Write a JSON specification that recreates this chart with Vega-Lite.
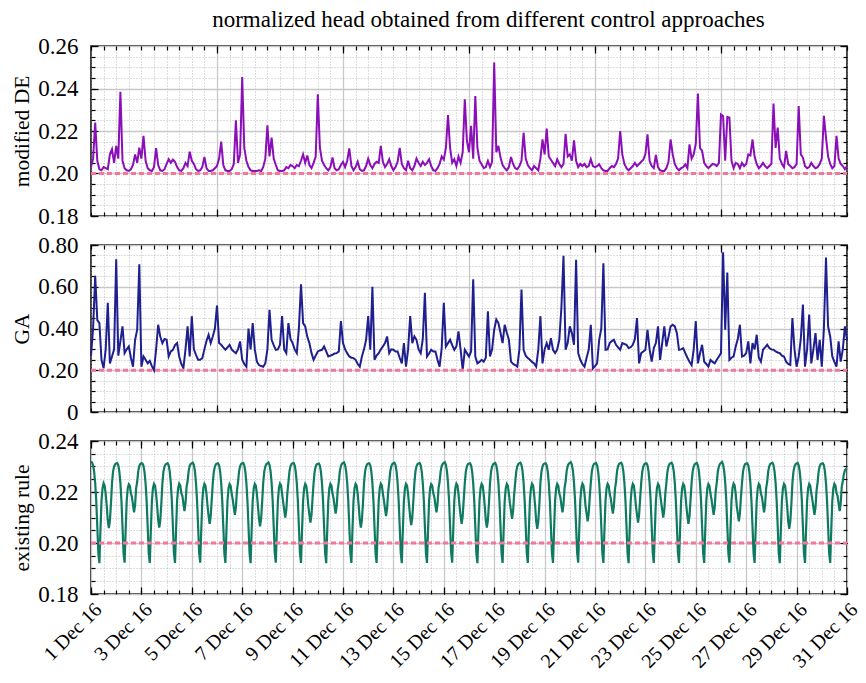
{
"$schema":"https://vega.github.io/schema/vega-lite/v6.json",
"background":"white",
"padding":{"left":11,"top":9,"right":10,"bottom":3},
"bounds":"flush",
"spacing":29,
"title":{"text":"normalized head obtained from different control approaches","font":"Liberation Serif","fontSize":23,"fontWeight":"normal","color":"black","anchor":"middle","offset":2,"dx":52},
"config":{
 "view":{"stroke":"black","strokeWidth":1.5},
 "axis":{"domain":false,"labelFont":"Liberation Serif","labelFontSize":23,"labelColor":"black","titleFont":"Liberation Serif","titleFontSize":21.5,"titleFontWeight":"normal","titleColor":"black","tickColor":"black","tickWidth":1.2,"tickSize":-4,"labelOverlap":false,"labelFlush":false,"labelBound":false,"gridColor":"#a0a0a0","gridDash":[1,2],"gridWidth":0.7}
},
"datasets":{
"thr":[{"t":"2016-12-01T00:00","v":0.2},{"t":"2016-12-31T00:00","v":0.2}],
"ab":[
{"t":"2016-12-01T00:00","a":0.203,"b":0.27},{"t":"2016-12-01T02:00","a":0.207,"b":0.40},{"t":"2016-12-01T04:00","a":0.224,"b":0.652},{"t":"2016-12-01T06:00","a":0.206,"b":0.44},{"t":"2016-12-01T08:00","a":0.202,"b":0.426},{"t":"2016-12-01T10:00","a":0.2015,"b":0.25},{"t":"2016-12-01T12:00","a":0.203,"b":0.21},{"t":"2016-12-01T14:00","a":0.2025,"b":0.30},{"t":"2016-12-01T16:00","a":0.202,"b":0.523},{"t":"2016-12-01T18:00","a":0.209,"b":0.233},{"t":"2016-12-01T20:00","a":0.2114,"b":0.266},{"t":"2016-12-01T22:00","a":0.205,"b":0.30},
{"t":"2016-12-02T00:00","a":0.213,"b":0.732},{"t":"2016-12-02T02:00","a":0.207,"b":0.27},{"t":"2016-12-02T04:00","a":0.2384,"b":0.34},{"t":"2016-12-02T06:00","a":0.206,"b":0.41},{"t":"2016-12-02T08:00","a":0.2025,"b":0.282},{"t":"2016-12-02T10:00","a":0.2015,"b":0.30},{"t":"2016-12-02T12:00","a":0.2012,"b":0.314},{"t":"2016-12-02T14:00","a":0.202,"b":0.26},{"t":"2016-12-02T16:00","a":0.204,"b":0.217},{"t":"2016-12-02T18:00","a":0.209,"b":0.346},{"t":"2016-12-02T20:00","a":0.205,"b":0.394},{"t":"2016-12-02T22:00","a":0.2122,"b":0.708},
{"t":"2016-12-03T00:00","a":0.207,"b":0.217},{"t":"2016-12-03T02:00","a":0.2177,"b":0.266},{"t":"2016-12-03T04:00","a":0.206,"b":0.25},{"t":"2016-12-03T06:00","a":0.2025,"b":0.233},{"t":"2016-12-03T08:00","a":0.2015,"b":0.245},{"t":"2016-12-03T10:00","a":0.2012,"b":0.22},{"t":"2016-12-03T12:00","a":0.203,"b":0.2},{"t":"2016-12-03T14:00","a":0.212,"b":0.30},{"t":"2016-12-03T16:00","a":0.204,"b":0.418},{"t":"2016-12-03T18:00","a":0.2015,"b":0.36},{"t":"2016-12-03T20:00","a":0.2012,"b":0.33},{"t":"2016-12-03T22:00","a":0.202,"b":0.35},
{"t":"2016-12-04T00:00","a":0.2045,"b":0.346},{"t":"2016-12-04T02:00","a":0.2067,"b":0.266},{"t":"2016-12-04T04:00","a":0.205,"b":0.29},{"t":"2016-12-04T06:00","a":0.2065,"b":0.298},{"t":"2016-12-04T08:00","a":0.2055,"b":0.32},{"t":"2016-12-04T10:00","a":0.203,"b":0.33},{"t":"2016-12-04T12:00","a":0.2015,"b":0.266},{"t":"2016-12-04T14:00","a":0.2012,"b":0.23},{"t":"2016-12-04T16:00","a":0.2025,"b":0.21},{"t":"2016-12-04T18:00","a":0.205,"b":0.30},{"t":"2016-12-04T20:00","a":0.2035,"b":0.41},{"t":"2016-12-04T22:00","a":0.2103,"b":0.266},
{"t":"2016-12-05T00:00","a":0.206,"b":0.459},{"t":"2016-12-05T02:00","a":0.2045,"b":0.30},{"t":"2016-12-05T04:00","a":0.202,"b":0.274},{"t":"2016-12-05T06:00","a":0.2012,"b":0.25},{"t":"2016-12-05T08:00","a":0.2015,"b":0.25},{"t":"2016-12-05T10:00","a":0.203,"b":0.258},{"t":"2016-12-05T12:00","a":0.2078,"b":0.30},{"t":"2016-12-05T14:00","a":0.2025,"b":0.34},{"t":"2016-12-05T16:00","a":0.2012,"b":0.37},{"t":"2016-12-05T18:00","a":0.2012,"b":0.33},{"t":"2016-12-05T20:00","a":0.2015,"b":0.362},{"t":"2016-12-05T22:00","a":0.2025,"b":0.40},
{"t":"2016-12-06T00:00","a":0.2035,"b":0.51},{"t":"2016-12-06T02:00","a":0.207,"b":0.33},{"t":"2016-12-06T04:00","a":0.215,"b":0.322},{"t":"2016-12-06T06:00","a":0.204,"b":0.31},{"t":"2016-12-06T08:00","a":0.2015,"b":0.298},{"t":"2016-12-06T10:00","a":0.2012,"b":0.31},{"t":"2016-12-06T12:00","a":0.2012,"b":0.322},{"t":"2016-12-06T14:00","a":0.202,"b":0.30},{"t":"2016-12-06T16:00","a":0.2045,"b":0.29},{"t":"2016-12-06T18:00","a":0.225,"b":0.282},{"t":"2016-12-06T20:00","a":0.205,"b":0.30},{"t":"2016-12-06T22:00","a":0.209,"b":0.338},
{"t":"2016-12-07T00:00","a":0.2454,"b":0.25},{"t":"2016-12-07T02:00","a":0.212,"b":0.23},{"t":"2016-12-07T04:00","a":0.206,"b":0.217},{"t":"2016-12-07T06:00","a":0.203,"b":0.40},{"t":"2016-12-07T08:00","a":0.2015,"b":0.30},{"t":"2016-12-07T10:00","a":0.2012,"b":0.426},{"t":"2016-12-07T12:00","a":0.2012,"b":0.30},{"t":"2016-12-07T14:00","a":0.2012,"b":0.241},{"t":"2016-12-07T16:00","a":0.2015,"b":0.225},{"t":"2016-12-07T18:00","a":0.2012,"b":0.22},{"t":"2016-12-07T20:00","a":0.203,"b":0.217},{"t":"2016-12-07T22:00","a":0.207,"b":0.233},
{"t":"2016-12-08T00:00","a":0.2227,"b":0.30},{"t":"2016-12-08T02:00","a":0.208,"b":0.49},{"t":"2016-12-08T04:00","a":0.2169,"b":0.346},{"t":"2016-12-08T06:00","a":0.207,"b":0.32},{"t":"2016-12-08T08:00","a":0.204,"b":0.298},{"t":"2016-12-08T10:00","a":0.2015,"b":0.30},{"t":"2016-12-08T12:00","a":0.2012,"b":0.322},{"t":"2016-12-08T14:00","a":0.2012,"b":0.459},{"t":"2016-12-08T16:00","a":0.2015,"b":0.30},{"t":"2016-12-08T18:00","a":0.203,"b":0.282},{"t":"2016-12-08T20:00","a":0.2025,"b":0.426},{"t":"2016-12-08T22:00","a":0.204,"b":0.35},
{"t":"2016-12-09T00:00","a":0.2035,"b":0.33},{"t":"2016-12-09T02:00","a":0.2025,"b":0.30},{"t":"2016-12-09T04:00","a":0.204,"b":0.282},{"t":"2016-12-09T06:00","a":0.2035,"b":0.40},{"t":"2016-12-09T08:00","a":0.206,"b":0.612},{"t":"2016-12-09T10:00","a":0.209,"b":0.426},{"t":"2016-12-09T12:00","a":0.205,"b":0.41},{"t":"2016-12-09T14:00","a":0.2085,"b":0.36},{"t":"2016-12-09T16:00","a":0.204,"b":0.33},{"t":"2016-12-09T18:00","a":0.2025,"b":0.282},{"t":"2016-12-09T20:00","a":0.205,"b":0.25},{"t":"2016-12-09T22:00","a":0.208,"b":0.27},
{"t":"2016-12-10T00:00","a":0.2373,"b":0.29},{"t":"2016-12-10T02:00","a":0.212,"b":0.295},{"t":"2016-12-10T04:00","a":0.206,"b":0.298},{"t":"2016-12-10T06:00","a":0.204,"b":0.314},{"t":"2016-12-10T08:00","a":0.2025,"b":0.29},{"t":"2016-12-10T10:00","a":0.2015,"b":0.266},{"t":"2016-12-10T12:00","a":0.203,"b":0.27},{"t":"2016-12-10T14:00","a":0.2075,"b":0.274},{"t":"2016-12-10T16:00","a":0.2025,"b":0.28},{"t":"2016-12-10T18:00","a":0.2015,"b":0.282},{"t":"2016-12-10T20:00","a":0.202,"b":0.29},{"t":"2016-12-10T22:00","a":0.204,"b":0.435},
{"t":"2016-12-11T00:00","a":0.2055,"b":0.33},{"t":"2016-12-11T02:00","a":0.203,"b":0.30},{"t":"2016-12-11T04:00","a":0.206,"b":0.282},{"t":"2016-12-11T06:00","a":0.2118,"b":0.266},{"t":"2016-12-11T08:00","a":0.2035,"b":0.26},{"t":"2016-12-11T10:00","a":0.2015,"b":0.258},{"t":"2016-12-11T12:00","a":0.203,"b":0.25},{"t":"2016-12-11T14:00","a":0.2056,"b":0.23},{"t":"2016-12-11T16:00","a":0.202,"b":0.217},{"t":"2016-12-11T18:00","a":0.2012,"b":0.266},{"t":"2016-12-11T20:00","a":0.2015,"b":0.30},{"t":"2016-12-11T22:00","a":0.2035,"b":0.346},
{"t":"2016-12-12T00:00","a":0.207,"b":0.459},{"t":"2016-12-12T02:00","a":0.204,"b":0.298},{"t":"2016-12-12T04:00","a":0.2025,"b":0.60},{"t":"2016-12-12T06:00","a":0.2045,"b":0.25},{"t":"2016-12-12T08:00","a":0.2055,"b":0.27},{"t":"2016-12-12T10:00","a":0.205,"b":0.282},{"t":"2016-12-12T12:00","a":0.213,"b":0.30},{"t":"2016-12-12T14:00","a":0.2055,"b":0.314},{"t":"2016-12-12T16:00","a":0.203,"b":0.33},{"t":"2016-12-12T18:00","a":0.2045,"b":0.362},{"t":"2016-12-12T20:00","a":0.2067,"b":0.282},{"t":"2016-12-12T22:00","a":0.2035,"b":0.30},
{"t":"2016-12-13T00:00","a":0.2015,"b":0.298},{"t":"2016-12-13T02:00","a":0.203,"b":0.29},{"t":"2016-12-13T04:00","a":0.2055,"b":0.29},{"t":"2016-12-13T06:00","a":0.212,"b":0.26},{"t":"2016-12-13T08:00","a":0.2045,"b":0.233},{"t":"2016-12-13T10:00","a":0.2025,"b":0.33},{"t":"2016-12-13T12:00","a":0.2015,"b":0.217},{"t":"2016-12-13T14:00","a":0.206,"b":0.30},{"t":"2016-12-13T16:00","a":0.2025,"b":0.459},{"t":"2016-12-13T18:00","a":0.2015,"b":0.33},{"t":"2016-12-13T20:00","a":0.2035,"b":0.362},{"t":"2016-12-13T22:00","a":0.207,"b":0.346},
{"t":"2016-12-14T00:00","a":0.205,"b":0.30},{"t":"2016-12-14T02:00","a":0.2035,"b":0.282},{"t":"2016-12-14T04:00","a":0.2055,"b":0.35},{"t":"2016-12-14T06:00","a":0.204,"b":0.571},{"t":"2016-12-14T08:00","a":0.205,"b":0.266},{"t":"2016-12-14T10:00","a":0.2067,"b":0.28},{"t":"2016-12-14T12:00","a":0.2035,"b":0.298},{"t":"2016-12-14T14:00","a":0.2015,"b":0.29},{"t":"2016-12-14T16:00","a":0.2012,"b":0.29},{"t":"2016-12-14T18:00","a":0.2025,"b":0.25},{"t":"2016-12-14T20:00","a":0.2045,"b":0.217},{"t":"2016-12-14T22:00","a":0.208,"b":0.306},
{"t":"2016-12-15T00:00","a":0.2065,"b":0.523},{"t":"2016-12-15T02:00","a":0.212,"b":0.314},{"t":"2016-12-15T04:00","a":0.2275,"b":0.33},{"t":"2016-12-15T06:00","a":0.212,"b":0.346},{"t":"2016-12-15T08:00","a":0.205,"b":0.32},{"t":"2016-12-15T10:00","a":0.2067,"b":0.298},{"t":"2016-12-15T12:00","a":0.2035,"b":0.314},{"t":"2016-12-15T14:00","a":0.208,"b":0.386},{"t":"2016-12-15T16:00","a":0.205,"b":0.30},{"t":"2016-12-15T18:00","a":0.21,"b":0.2},{"t":"2016-12-15T20:00","a":0.2349,"b":0.298},{"t":"2016-12-15T22:00","a":0.2153,"b":0.282},
{"t":"2016-12-16T00:00","a":0.21,"b":0.266},{"t":"2016-12-16T02:00","a":0.2224,"b":0.29},{"t":"2016-12-16T04:00","a":0.207,"b":0.636},{"t":"2016-12-16T06:00","a":0.2365,"b":0.266},{"t":"2016-12-16T08:00","a":0.212,"b":0.233},{"t":"2016-12-16T10:00","a":0.206,"b":0.24},{"t":"2016-12-16T12:00","a":0.2043,"b":0.25},{"t":"2016-12-16T14:00","a":0.2025,"b":0.241},{"t":"2016-12-16T16:00","a":0.203,"b":0.26},{"t":"2016-12-16T18:00","a":0.2059,"b":0.483},{"t":"2016-12-16T20:00","a":0.203,"b":0.266},{"t":"2016-12-16T22:00","a":0.2055,"b":0.30},
{"t":"2016-12-17T00:00","a":0.2522,"b":0.394},{"t":"2016-12-17T02:00","a":0.21,"b":0.443},{"t":"2016-12-17T04:00","a":0.213,"b":0.426},{"t":"2016-12-17T06:00","a":0.2075,"b":0.38},{"t":"2016-12-17T08:00","a":0.204,"b":0.33},{"t":"2016-12-17T10:00","a":0.2025,"b":0.418},{"t":"2016-12-17T12:00","a":0.2015,"b":0.38},{"t":"2016-12-17T14:00","a":0.203,"b":0.346},{"t":"2016-12-17T16:00","a":0.2078,"b":0.241},{"t":"2016-12-17T18:00","a":0.2045,"b":0.23},{"t":"2016-12-17T20:00","a":0.2025,"b":0.225},{"t":"2016-12-17T22:00","a":0.202,"b":0.217},
{"t":"2016-12-18T00:00","a":0.2035,"b":0.30},{"t":"2016-12-18T02:00","a":0.206,"b":0.587},{"t":"2016-12-18T04:00","a":0.2192,"b":0.298},{"t":"2016-12-18T06:00","a":0.207,"b":0.27},{"t":"2016-12-18T08:00","a":0.204,"b":0.258},{"t":"2016-12-18T10:00","a":0.2025,"b":0.25},{"t":"2016-12-18T12:00","a":0.2015,"b":0.24},{"t":"2016-12-18T14:00","a":0.2035,"b":0.233},{"t":"2016-12-18T16:00","a":0.2025,"b":0.217},{"t":"2016-12-18T18:00","a":0.2015,"b":0.30},{"t":"2016-12-18T20:00","a":0.207,"b":0.459},{"t":"2016-12-18T22:00","a":0.2161,"b":0.233},
{"t":"2016-12-19T00:00","a":0.209,"b":0.30},{"t":"2016-12-19T02:00","a":0.2211,"b":0.33},{"t":"2016-12-19T04:00","a":0.208,"b":0.298},{"t":"2016-12-19T06:00","a":0.2065,"b":0.354},{"t":"2016-12-19T08:00","a":0.205,"b":0.298},{"t":"2016-12-19T10:00","a":0.2035,"b":0.282},{"t":"2016-12-19T12:00","a":0.2067,"b":0.30},{"t":"2016-12-19T14:00","a":0.2045,"b":0.346},{"t":"2016-12-19T16:00","a":0.203,"b":0.50},{"t":"2016-12-19T18:00","a":0.2045,"b":0.748},{"t":"2016-12-19T20:00","a":0.2187,"b":0.298},{"t":"2016-12-19T22:00","a":0.208,"b":0.33},
{"t":"2016-12-20T00:00","a":0.209,"b":0.41},{"t":"2016-12-20T02:00","a":0.206,"b":0.378},{"t":"2016-12-20T04:00","a":0.2156,"b":0.322},{"t":"2016-12-20T06:00","a":0.206,"b":0.729},{"t":"2016-12-20T08:00","a":0.203,"b":0.282},{"t":"2016-12-20T10:00","a":0.2045,"b":0.25},{"t":"2016-12-20T12:00","a":0.2035,"b":0.23},{"t":"2016-12-20T14:00","a":0.2045,"b":0.217},{"t":"2016-12-20T16:00","a":0.203,"b":0.26},{"t":"2016-12-20T18:00","a":0.2035,"b":0.298},{"t":"2016-12-20T20:00","a":0.2067,"b":0.418},{"t":"2016-12-20T22:00","a":0.2035,"b":0.209},
{"t":"2016-12-21T00:00","a":0.203,"b":0.22},{"t":"2016-12-21T02:00","a":0.2035,"b":0.233},{"t":"2016-12-21T04:00","a":0.2043,"b":0.346},{"t":"2016-12-21T06:00","a":0.2025,"b":0.40},{"t":"2016-12-21T08:00","a":0.2015,"b":0.713},{"t":"2016-12-21T10:00","a":0.2012,"b":0.298},{"t":"2016-12-21T12:00","a":0.2012,"b":0.30},{"t":"2016-12-21T14:00","a":0.2025,"b":0.33},{"t":"2016-12-21T16:00","a":0.2035,"b":0.34},{"t":"2016-12-21T18:00","a":0.203,"b":0.346},{"t":"2016-12-21T20:00","a":0.2045,"b":0.322},{"t":"2016-12-21T22:00","a":0.207,"b":0.31},
{"t":"2016-12-22T00:00","a":0.22,"b":0.298},{"t":"2016-12-22T02:00","a":0.209,"b":0.33},{"t":"2016-12-22T04:00","a":0.2045,"b":0.326},{"t":"2016-12-22T06:00","a":0.2025,"b":0.322},{"t":"2016-12-22T08:00","a":0.2015,"b":0.306},{"t":"2016-12-22T10:00","a":0.2025,"b":0.31},{"t":"2016-12-22T12:00","a":0.2035,"b":0.322},{"t":"2016-12-22T14:00","a":0.205,"b":0.35},{"t":"2016-12-22T16:00","a":0.2035,"b":0.45},{"t":"2016-12-22T18:00","a":0.2045,"b":0.233},{"t":"2016-12-22T20:00","a":0.2055,"b":0.282},{"t":"2016-12-22T22:00","a":0.2065,"b":0.29},
{"t":"2016-12-23T00:00","a":0.209,"b":0.298},{"t":"2016-12-23T02:00","a":0.2184,"b":0.394},{"t":"2016-12-23T04:00","a":0.206,"b":0.30},{"t":"2016-12-23T06:00","a":0.2035,"b":0.241},{"t":"2016-12-23T08:00","a":0.2025,"b":0.306},{"t":"2016-12-23T10:00","a":0.2087,"b":0.33},{"t":"2016-12-23T12:00","a":0.203,"b":0.41},{"t":"2016-12-23T14:00","a":0.2015,"b":0.25},{"t":"2016-12-23T16:00","a":0.2012,"b":0.33},{"t":"2016-12-23T18:00","a":0.2012,"b":0.41},{"t":"2016-12-23T20:00","a":0.2025,"b":0.314},{"t":"2016-12-23T22:00","a":0.2055,"b":0.36},
{"t":"2016-12-24T00:00","a":0.216,"b":0.41},{"t":"2016-12-24T02:00","a":0.209,"b":0.418},{"t":"2016-12-24T04:00","a":0.2045,"b":0.41},{"t":"2016-12-24T06:00","a":0.2025,"b":0.378},{"t":"2016-12-24T08:00","a":0.2015,"b":0.298},{"t":"2016-12-24T10:00","a":0.2025,"b":0.30},{"t":"2016-12-24T12:00","a":0.203,"b":0.306},{"t":"2016-12-24T14:00","a":0.2043,"b":0.282},{"t":"2016-12-24T16:00","a":0.2025,"b":0.26},{"t":"2016-12-24T18:00","a":0.2137,"b":0.241},{"t":"2016-12-24T20:00","a":0.207,"b":0.225},{"t":"2016-12-24T22:00","a":0.209,"b":0.30},
{"t":"2016-12-25T00:00","a":0.214,"b":0.435},{"t":"2016-12-25T02:00","a":0.2376,"b":0.233},{"t":"2016-12-25T04:00","a":0.212,"b":0.28},{"t":"2016-12-25T06:00","a":0.2106,"b":0.322},{"t":"2016-12-25T08:00","a":0.205,"b":0.241},{"t":"2016-12-25T10:00","a":0.2035,"b":0.23},{"t":"2016-12-25T12:00","a":0.2025,"b":0.217},{"t":"2016-12-25T14:00","a":0.2035,"b":0.25},{"t":"2016-12-25T16:00","a":0.2045,"b":0.24},{"t":"2016-12-25T18:00","a":0.2043,"b":0.233},{"t":"2016-12-25T20:00","a":0.2035,"b":0.25},{"t":"2016-12-25T22:00","a":0.205,"b":0.266},
{"t":"2016-12-26T00:00","a":0.2278,"b":0.282},{"t":"2016-12-26T02:00","a":0.2271,"b":0.765},{"t":"2016-12-26T04:00","a":0.206,"b":0.394},{"t":"2016-12-26T06:00","a":0.2266,"b":0.668},{"t":"2016-12-26T08:00","a":0.2263,"b":0.25},{"t":"2016-12-26T10:00","a":0.206,"b":0.26},{"t":"2016-12-26T12:00","a":0.2025,"b":0.266},{"t":"2016-12-26T14:00","a":0.205,"b":0.314},{"t":"2016-12-26T16:00","a":0.2045,"b":0.35},{"t":"2016-12-26T18:00","a":0.2025,"b":0.418},{"t":"2016-12-26T20:00","a":0.205,"b":0.266},{"t":"2016-12-26T22:00","a":0.2035,"b":0.27},
{"t":"2016-12-27T00:00","a":0.2045,"b":0.282},{"t":"2016-12-27T02:00","a":0.209,"b":0.338},{"t":"2016-12-27T04:00","a":0.2085,"b":0.233},{"t":"2016-12-27T06:00","a":0.216,"b":0.33},{"t":"2016-12-27T08:00","a":0.208,"b":0.30},{"t":"2016-12-27T10:00","a":0.2045,"b":0.37},{"t":"2016-12-27T12:00","a":0.2025,"b":0.26},{"t":"2016-12-27T14:00","a":0.2035,"b":0.241},{"t":"2016-12-27T16:00","a":0.205,"b":0.298},{"t":"2016-12-27T18:00","a":0.2035,"b":0.31},{"t":"2016-12-27T20:00","a":0.2025,"b":0.322},{"t":"2016-12-27T22:00","a":0.2035,"b":0.306},
{"t":"2016-12-28T00:00","a":0.2045,"b":0.30},{"t":"2016-12-28T02:00","a":0.2329,"b":0.298},{"t":"2016-12-28T04:00","a":0.212,"b":0.29},{"t":"2016-12-28T06:00","a":0.2216,"b":0.285},{"t":"2016-12-28T08:00","a":0.207,"b":0.282},{"t":"2016-12-28T10:00","a":0.2045,"b":0.27},{"t":"2016-12-28T12:00","a":0.203,"b":0.266},{"t":"2016-12-28T14:00","a":0.2106,"b":0.241},{"t":"2016-12-28T16:00","a":0.2045,"b":0.23},{"t":"2016-12-28T18:00","a":0.2035,"b":0.225},{"t":"2016-12-28T20:00","a":0.2025,"b":0.45},{"t":"2016-12-28T22:00","a":0.203,"b":0.30},
{"t":"2016-12-29T00:00","a":0.2045,"b":0.217},{"t":"2016-12-29T02:00","a":0.2318,"b":0.266},{"t":"2016-12-29T04:00","a":0.209,"b":0.35},{"t":"2016-12-29T06:00","a":0.2075,"b":0.515},{"t":"2016-12-29T08:00","a":0.2035,"b":0.217},{"t":"2016-12-29T10:00","a":0.2025,"b":0.30},{"t":"2016-12-29T12:00","a":0.203,"b":0.467},{"t":"2016-12-29T14:00","a":0.205,"b":0.233},{"t":"2016-12-29T16:00","a":0.2035,"b":0.30},{"t":"2016-12-29T18:00","a":0.2025,"b":0.378},{"t":"2016-12-29T20:00","a":0.203,"b":0.25},{"t":"2016-12-29T22:00","a":0.2045,"b":0.346},
{"t":"2016-12-30T00:00","a":0.207,"b":0.217},{"t":"2016-12-30T02:00","a":0.2271,"b":0.40},{"t":"2016-12-30T04:00","a":0.2169,"b":0.74},{"t":"2016-12-30T06:00","a":0.208,"b":0.41},{"t":"2016-12-30T08:00","a":0.2045,"b":0.362},{"t":"2016-12-30T10:00","a":0.2025,"b":0.266},{"t":"2016-12-30T12:00","a":0.2035,"b":0.24},{"t":"2016-12-30T14:00","a":0.2177,"b":0.217},{"t":"2016-12-30T16:00","a":0.207,"b":0.338},{"t":"2016-12-30T18:00","a":0.2045,"b":0.241},{"t":"2016-12-30T20:00","a":0.2035,"b":0.30},{"t":"2016-12-30T22:00","a":0.202,"b":0.41},
{"t":"2016-12-31T00:00","a":0.2035,"b":0.346}
],
"c":[
{"t":"2016-12-01T00:00","c":0.2320},{"t":"2016-12-01T01:00","c":0.2315},{"t":"2016-12-01T02:00","c":0.2305},{"t":"2016-12-01T03:00","c":0.2280},{"t":"2016-12-01T04:00","c":0.2235},{"t":"2016-12-01T05:00","c":0.2165},{"t":"2016-12-01T06:00","c":0.2065},{"t":"2016-12-01T07:00","c":0.1960},{"t":"2016-12-01T08:00","c":0.1921},{"t":"2016-12-01T09:00","c":0.2050},{"t":"2016-12-01T10:00","c":0.2165},{"t":"2016-12-01T11:00","c":0.2215},{"t":"2016-12-01T12:00","c":0.2234},{"t":"2016-12-01T13:00","c":0.2225},{"t":"2016-12-01T14:00","c":0.2192},{"t":"2016-12-01T15:00","c":0.2145},{"t":"2016-12-01T16:00","c":0.2088},{"t":"2016-12-01T17:00","c":0.2058},{"t":"2016-12-01T18:00","c":0.2088},{"t":"2016-12-01T19:00","c":0.2153},{"t":"2016-12-01T20:00","c":0.2235},{"t":"2016-12-01T21:00","c":0.2280},{"t":"2016-12-01T22:00","c":0.2300},{"t":"2016-12-01T23:00","c":0.2309},
{"t":"2016-12-02T00:00","c":0.2312},{"t":"2016-12-02T01:00","c":0.2314},{"t":"2016-12-02T02:00","c":0.2305},{"t":"2016-12-02T03:00","c":0.2280},{"t":"2016-12-02T04:00","c":0.2235},{"t":"2016-12-02T05:00","c":0.2165},{"t":"2016-12-02T06:00","c":0.2065},{"t":"2016-12-02T07:00","c":0.1960},{"t":"2016-12-02T08:00","c":0.1923},{"t":"2016-12-02T09:00","c":0.2050},{"t":"2016-12-02T10:00","c":0.2165},{"t":"2016-12-02T11:00","c":0.2215},{"t":"2016-12-02T12:00","c":0.2230},{"t":"2016-12-02T13:00","c":0.2224},{"t":"2016-12-02T14:00","c":0.2195},{"t":"2016-12-02T15:00","c":0.2180},{"t":"2016-12-02T16:00","c":0.2150},{"t":"2016-12-02T17:00","c":0.2120},{"t":"2016-12-02T18:00","c":0.2150},{"t":"2016-12-02T19:00","c":0.2215},{"t":"2016-12-02T20:00","c":0.2240},{"t":"2016-12-02T21:00","c":0.2282},{"t":"2016-12-02T22:00","c":0.2302},{"t":"2016-12-02T23:00","c":0.2310},
{"t":"2016-12-03T00:00","c":0.2313},{"t":"2016-12-03T01:00","c":0.2312},{"t":"2016-12-03T02:00","c":0.2303},{"t":"2016-12-03T03:00","c":0.2278},{"t":"2016-12-03T04:00","c":0.2233},{"t":"2016-12-03T05:00","c":0.2163},{"t":"2016-12-03T06:00","c":0.2063},{"t":"2016-12-03T07:00","c":0.1958},{"t":"2016-12-03T08:00","c":0.1922},{"t":"2016-12-03T09:00","c":0.2050},{"t":"2016-12-03T10:00","c":0.2165},{"t":"2016-12-03T11:00","c":0.2215},{"t":"2016-12-03T12:00","c":0.2232},{"t":"2016-12-03T13:00","c":0.2225},{"t":"2016-12-03T14:00","c":0.2192},{"t":"2016-12-03T15:00","c":0.2145},{"t":"2016-12-03T16:00","c":0.2090},{"t":"2016-12-03T17:00","c":0.2060},{"t":"2016-12-03T18:00","c":0.2090},{"t":"2016-12-03T19:00","c":0.2155},{"t":"2016-12-03T20:00","c":0.2235},{"t":"2016-12-03T21:00","c":0.2280},{"t":"2016-12-03T22:00","c":0.2300},{"t":"2016-12-03T23:00","c":0.2308},
{"t":"2016-12-04T00:00","c":0.2311},{"t":"2016-12-04T01:00","c":0.2313},{"t":"2016-12-04T02:00","c":0.2305},{"t":"2016-12-04T03:00","c":0.2280},{"t":"2016-12-04T04:00","c":0.2235},{"t":"2016-12-04T05:00","c":0.2165},{"t":"2016-12-04T06:00","c":0.2065},{"t":"2016-12-04T07:00","c":0.1960},{"t":"2016-12-04T08:00","c":0.1922},{"t":"2016-12-04T09:00","c":0.2050},{"t":"2016-12-04T10:00","c":0.2166},{"t":"2016-12-04T11:00","c":0.2216},{"t":"2016-12-04T12:00","c":0.2233},{"t":"2016-12-04T13:00","c":0.2226},{"t":"2016-12-04T14:00","c":0.2196},{"t":"2016-12-04T15:00","c":0.2185},{"t":"2016-12-04T16:00","c":0.2155},{"t":"2016-12-04T17:00","c":0.2125},{"t":"2016-12-04T18:00","c":0.2155},{"t":"2016-12-04T19:00","c":0.2220},{"t":"2016-12-04T20:00","c":0.2242},{"t":"2016-12-04T21:00","c":0.2283},{"t":"2016-12-04T22:00","c":0.2302},{"t":"2016-12-04T23:00","c":0.2310},
{"t":"2016-12-05T00:00","c":0.2313},{"t":"2016-12-05T01:00","c":0.2315},{"t":"2016-12-05T02:00","c":0.2306},{"t":"2016-12-05T03:00","c":0.2281},{"t":"2016-12-05T04:00","c":0.2236},{"t":"2016-12-05T05:00","c":0.2166},{"t":"2016-12-05T06:00","c":0.2066},{"t":"2016-12-05T07:00","c":0.1961},{"t":"2016-12-05T08:00","c":0.1923},{"t":"2016-12-05T09:00","c":0.2050},{"t":"2016-12-05T10:00","c":0.2165},{"t":"2016-12-05T11:00","c":0.2215},{"t":"2016-12-05T12:00","c":0.2232},{"t":"2016-12-05T13:00","c":0.2225},{"t":"2016-12-05T14:00","c":0.2192},{"t":"2016-12-05T15:00","c":0.2145},{"t":"2016-12-05T16:00","c":0.2105},{"t":"2016-12-05T17:00","c":0.2075},{"t":"2016-12-05T18:00","c":0.2105},{"t":"2016-12-05T19:00","c":0.2170},{"t":"2016-12-05T20:00","c":0.2236},{"t":"2016-12-05T21:00","c":0.2280},{"t":"2016-12-05T22:00","c":0.2300},{"t":"2016-12-05T23:00","c":0.2309},
{"t":"2016-12-06T00:00","c":0.2312},{"t":"2016-12-06T01:00","c":0.2313},{"t":"2016-12-06T02:00","c":0.2305},{"t":"2016-12-06T03:00","c":0.2280},{"t":"2016-12-06T04:00","c":0.2235},{"t":"2016-12-06T05:00","c":0.2165},{"t":"2016-12-06T06:00","c":0.2065},{"t":"2016-12-06T07:00","c":0.1960},{"t":"2016-12-06T08:00","c":0.1922},{"t":"2016-12-06T09:00","c":0.2050},{"t":"2016-12-06T10:00","c":0.2165},{"t":"2016-12-06T11:00","c":0.2215},{"t":"2016-12-06T12:00","c":0.2231},{"t":"2016-12-06T13:00","c":0.2224},{"t":"2016-12-06T14:00","c":0.2193},{"t":"2016-12-06T15:00","c":0.2170},{"t":"2016-12-06T16:00","c":0.2140},{"t":"2016-12-06T17:00","c":0.2110},{"t":"2016-12-06T18:00","c":0.2140},{"t":"2016-12-06T19:00","c":0.2205},{"t":"2016-12-06T20:00","c":0.2238},{"t":"2016-12-06T21:00","c":0.2281},{"t":"2016-12-06T22:00","c":0.2301},{"t":"2016-12-06T23:00","c":0.2310},
{"t":"2016-12-07T00:00","c":0.2313},{"t":"2016-12-07T01:00","c":0.2314},{"t":"2016-12-07T02:00","c":0.2305},{"t":"2016-12-07T03:00","c":0.2280},{"t":"2016-12-07T04:00","c":0.2235},{"t":"2016-12-07T05:00","c":0.2165},{"t":"2016-12-07T06:00","c":0.2065},{"t":"2016-12-07T07:00","c":0.1960},{"t":"2016-12-07T08:00","c":0.1921},{"t":"2016-12-07T09:00","c":0.2050},{"t":"2016-12-07T10:00","c":0.2165},{"t":"2016-12-07T11:00","c":0.2215},{"t":"2016-12-07T12:00","c":0.2232},{"t":"2016-12-07T13:00","c":0.2225},{"t":"2016-12-07T14:00","c":0.2192},{"t":"2016-12-07T15:00","c":0.2145},{"t":"2016-12-07T16:00","c":0.2095},{"t":"2016-12-07T17:00","c":0.2065},{"t":"2016-12-07T18:00","c":0.2095},{"t":"2016-12-07T19:00","c":0.2160},{"t":"2016-12-07T20:00","c":0.2235},{"t":"2016-12-07T21:00","c":0.2280},{"t":"2016-12-07T22:00","c":0.2300},{"t":"2016-12-07T23:00","c":0.2309},
{"t":"2016-12-08T00:00","c":0.2312},{"t":"2016-12-08T01:00","c":0.2316},{"t":"2016-12-08T02:00","c":0.2307},{"t":"2016-12-08T03:00","c":0.2282},{"t":"2016-12-08T04:00","c":0.2237},{"t":"2016-12-08T05:00","c":0.2167},{"t":"2016-12-08T06:00","c":0.2066},{"t":"2016-12-08T07:00","c":0.1961},{"t":"2016-12-08T08:00","c":0.1923},{"t":"2016-12-08T09:00","c":0.2051},{"t":"2016-12-08T10:00","c":0.2166},{"t":"2016-12-08T11:00","c":0.2216},{"t":"2016-12-08T12:00","c":0.2233},{"t":"2016-12-08T13:00","c":0.2226},{"t":"2016-12-08T14:00","c":0.2193},{"t":"2016-12-08T15:00","c":0.2160},{"t":"2016-12-08T16:00","c":0.2130},{"t":"2016-12-08T17:00","c":0.2100},{"t":"2016-12-08T18:00","c":0.2130},{"t":"2016-12-08T19:00","c":0.2195},{"t":"2016-12-08T20:00","c":0.2237},{"t":"2016-12-08T21:00","c":0.2281},{"t":"2016-12-08T22:00","c":0.2301},{"t":"2016-12-08T23:00","c":0.2310},
{"t":"2016-12-09T00:00","c":0.2313},{"t":"2016-12-09T01:00","c":0.2314},{"t":"2016-12-09T02:00","c":0.2305},{"t":"2016-12-09T03:00","c":0.2280},{"t":"2016-12-09T04:00","c":0.2235},{"t":"2016-12-09T05:00","c":0.2165},{"t":"2016-12-09T06:00","c":0.2065},{"t":"2016-12-09T07:00","c":0.1960},{"t":"2016-12-09T08:00","c":0.1922},{"t":"2016-12-09T09:00","c":0.2050},{"t":"2016-12-09T10:00","c":0.2165},{"t":"2016-12-09T11:00","c":0.2215},{"t":"2016-12-09T12:00","c":0.2232},{"t":"2016-12-09T13:00","c":0.2225},{"t":"2016-12-09T14:00","c":0.2192},{"t":"2016-12-09T15:00","c":0.2145},{"t":"2016-12-09T16:00","c":0.2110},{"t":"2016-12-09T17:00","c":0.2080},{"t":"2016-12-09T18:00","c":0.2110},{"t":"2016-12-09T19:00","c":0.2175},{"t":"2016-12-09T20:00","c":0.2236},{"t":"2016-12-09T21:00","c":0.2280},{"t":"2016-12-09T22:00","c":0.2300},{"t":"2016-12-09T23:00","c":0.2309},
{"t":"2016-12-10T00:00","c":0.2311},{"t":"2016-12-10T01:00","c":0.2312},{"t":"2016-12-10T02:00","c":0.2304},{"t":"2016-12-10T03:00","c":0.2279},{"t":"2016-12-10T04:00","c":0.2234},{"t":"2016-12-10T05:00","c":0.2164},{"t":"2016-12-10T06:00","c":0.2064},{"t":"2016-12-10T07:00","c":0.1959},{"t":"2016-12-10T08:00","c":0.1921},{"t":"2016-12-10T09:00","c":0.2050},{"t":"2016-12-10T10:00","c":0.2165},{"t":"2016-12-10T11:00","c":0.2215},{"t":"2016-12-10T12:00","c":0.2232},{"t":"2016-12-10T13:00","c":0.2225},{"t":"2016-12-10T14:00","c":0.2194},{"t":"2016-12-10T15:00","c":0.2175},{"t":"2016-12-10T16:00","c":0.2145},{"t":"2016-12-10T17:00","c":0.2115},{"t":"2016-12-10T18:00","c":0.2145},{"t":"2016-12-10T19:00","c":0.2210},{"t":"2016-12-10T20:00","c":0.2239},{"t":"2016-12-10T21:00","c":0.2282},{"t":"2016-12-10T22:00","c":0.2302},{"t":"2016-12-10T23:00","c":0.2311},
{"t":"2016-12-11T00:00","c":0.2314},{"t":"2016-12-11T01:00","c":0.2316},{"t":"2016-12-11T02:00","c":0.2306},{"t":"2016-12-11T03:00","c":0.2281},{"t":"2016-12-11T04:00","c":0.2236},{"t":"2016-12-11T05:00","c":0.2166},{"t":"2016-12-11T06:00","c":0.2066},{"t":"2016-12-11T07:00","c":0.1961},{"t":"2016-12-11T08:00","c":0.1922},{"t":"2016-12-11T09:00","c":0.2050},{"t":"2016-12-11T10:00","c":0.2165},{"t":"2016-12-11T11:00","c":0.2215},{"t":"2016-12-11T12:00","c":0.2232},{"t":"2016-12-11T13:00","c":0.2225},{"t":"2016-12-11T14:00","c":0.2192},{"t":"2016-12-11T15:00","c":0.2145},{"t":"2016-12-11T16:00","c":0.2090},{"t":"2016-12-11T17:00","c":0.2060},{"t":"2016-12-11T18:00","c":0.2090},{"t":"2016-12-11T19:00","c":0.2155},{"t":"2016-12-11T20:00","c":0.2235},{"t":"2016-12-11T21:00","c":0.2280},{"t":"2016-12-11T22:00","c":0.2300},{"t":"2016-12-11T23:00","c":0.2309},
{"t":"2016-12-12T00:00","c":0.2312},{"t":"2016-12-12T01:00","c":0.2313},{"t":"2016-12-12T02:00","c":0.2305},{"t":"2016-12-12T03:00","c":0.2280},{"t":"2016-12-12T04:00","c":0.2235},{"t":"2016-12-12T05:00","c":0.2165},{"t":"2016-12-12T06:00","c":0.2065},{"t":"2016-12-12T07:00","c":0.1960},{"t":"2016-12-12T08:00","c":0.1922},{"t":"2016-12-12T09:00","c":0.2050},{"t":"2016-12-12T10:00","c":0.2165},{"t":"2016-12-12T11:00","c":0.2215},{"t":"2016-12-12T12:00","c":0.2233},{"t":"2016-12-12T13:00","c":0.2226},{"t":"2016-12-12T14:00","c":0.2194},{"t":"2016-12-12T15:00","c":0.2165},{"t":"2016-12-12T16:00","c":0.2135},{"t":"2016-12-12T17:00","c":0.2105},{"t":"2016-12-12T18:00","c":0.2135},{"t":"2016-12-12T19:00","c":0.2200},{"t":"2016-12-12T20:00","c":0.2238},{"t":"2016-12-12T21:00","c":0.2281},{"t":"2016-12-12T22:00","c":0.2301},{"t":"2016-12-12T23:00","c":0.2310},
{"t":"2016-12-13T00:00","c":0.2313},{"t":"2016-12-13T01:00","c":0.2315},{"t":"2016-12-13T02:00","c":0.2306},{"t":"2016-12-13T03:00","c":0.2281},{"t":"2016-12-13T04:00","c":0.2236},{"t":"2016-12-13T05:00","c":0.2166},{"t":"2016-12-13T06:00","c":0.2066},{"t":"2016-12-13T07:00","c":0.1960},{"t":"2016-12-13T08:00","c":0.1921},{"t":"2016-12-13T09:00","c":0.2050},{"t":"2016-12-13T10:00","c":0.2165},{"t":"2016-12-13T11:00","c":0.2215},{"t":"2016-12-13T12:00","c":0.2232},{"t":"2016-12-13T13:00","c":0.2225},{"t":"2016-12-13T14:00","c":0.2192},{"t":"2016-12-13T15:00","c":0.2145},{"t":"2016-12-13T16:00","c":0.2100},{"t":"2016-12-13T17:00","c":0.2070},{"t":"2016-12-13T18:00","c":0.2100},{"t":"2016-12-13T19:00","c":0.2165},{"t":"2016-12-13T20:00","c":0.2236},{"t":"2016-12-13T21:00","c":0.2281},{"t":"2016-12-13T22:00","c":0.2301},{"t":"2016-12-13T23:00","c":0.2310},
{"t":"2016-12-14T00:00","c":0.2312},{"t":"2016-12-14T01:00","c":0.2314},{"t":"2016-12-14T02:00","c":0.2305},{"t":"2016-12-14T03:00","c":0.2280},{"t":"2016-12-14T04:00","c":0.2235},{"t":"2016-12-14T05:00","c":0.2165},{"t":"2016-12-14T06:00","c":0.2065},{"t":"2016-12-14T07:00","c":0.1960},{"t":"2016-12-14T08:00","c":0.1922},{"t":"2016-12-14T09:00","c":0.2050},{"t":"2016-12-14T10:00","c":0.2165},{"t":"2016-12-14T11:00","c":0.2215},{"t":"2016-12-14T12:00","c":0.2231},{"t":"2016-12-14T13:00","c":0.2225},{"t":"2016-12-14T14:00","c":0.2195},{"t":"2016-12-14T15:00","c":0.2180},{"t":"2016-12-14T16:00","c":0.2150},{"t":"2016-12-14T17:00","c":0.2120},{"t":"2016-12-14T18:00","c":0.2150},{"t":"2016-12-14T19:00","c":0.2215},{"t":"2016-12-14T20:00","c":0.2240},{"t":"2016-12-14T21:00","c":0.2282},{"t":"2016-12-14T22:00","c":0.2302},{"t":"2016-12-14T23:00","c":0.2311},
{"t":"2016-12-15T00:00","c":0.2314},{"t":"2016-12-15T01:00","c":0.2317},{"t":"2016-12-15T02:00","c":0.2307},{"t":"2016-12-15T03:00","c":0.2282},{"t":"2016-12-15T04:00","c":0.2237},{"t":"2016-12-15T05:00","c":0.2167},{"t":"2016-12-15T06:00","c":0.2066},{"t":"2016-12-15T07:00","c":0.1961},{"t":"2016-12-15T08:00","c":0.1923},{"t":"2016-12-15T09:00","c":0.2051},{"t":"2016-12-15T10:00","c":0.2166},{"t":"2016-12-15T11:00","c":0.2216},{"t":"2016-12-15T12:00","c":0.2233},{"t":"2016-12-15T13:00","c":0.2226},{"t":"2016-12-15T14:00","c":0.2193},{"t":"2016-12-15T15:00","c":0.2145},{"t":"2016-12-15T16:00","c":0.2105},{"t":"2016-12-15T17:00","c":0.2075},{"t":"2016-12-15T18:00","c":0.2105},{"t":"2016-12-15T19:00","c":0.2170},{"t":"2016-12-15T20:00","c":0.2236},{"t":"2016-12-15T21:00","c":0.2281},{"t":"2016-12-15T22:00","c":0.2301},{"t":"2016-12-15T23:00","c":0.2310},
{"t":"2016-12-16T00:00","c":0.2312},{"t":"2016-12-16T01:00","c":0.2313},{"t":"2016-12-16T02:00","c":0.2305},{"t":"2016-12-16T03:00","c":0.2280},{"t":"2016-12-16T04:00","c":0.2235},{"t":"2016-12-16T05:00","c":0.2165},{"t":"2016-12-16T06:00","c":0.2065},{"t":"2016-12-16T07:00","c":0.1960},{"t":"2016-12-16T08:00","c":0.1921},{"t":"2016-12-16T09:00","c":0.2050},{"t":"2016-12-16T10:00","c":0.2165},{"t":"2016-12-16T11:00","c":0.2215},{"t":"2016-12-16T12:00","c":0.2232},{"t":"2016-12-16T13:00","c":0.2225},{"t":"2016-12-16T14:00","c":0.2192},{"t":"2016-12-16T15:00","c":0.2145},{"t":"2016-12-16T16:00","c":0.2090},{"t":"2016-12-16T17:00","c":0.2060},{"t":"2016-12-16T18:00","c":0.2090},{"t":"2016-12-16T19:00","c":0.2155},{"t":"2016-12-16T20:00","c":0.2235},{"t":"2016-12-16T21:00","c":0.2280},{"t":"2016-12-16T22:00","c":0.2300},{"t":"2016-12-16T23:00","c":0.2309},
{"t":"2016-12-17T00:00","c":0.2312},{"t":"2016-12-17T01:00","c":0.2314},{"t":"2016-12-17T02:00","c":0.2305},{"t":"2016-12-17T03:00","c":0.2280},{"t":"2016-12-17T04:00","c":0.2235},{"t":"2016-12-17T05:00","c":0.2165},{"t":"2016-12-17T06:00","c":0.2065},{"t":"2016-12-17T07:00","c":0.1960},{"t":"2016-12-17T08:00","c":0.1922},{"t":"2016-12-17T09:00","c":0.2050},{"t":"2016-12-17T10:00","c":0.2165},{"t":"2016-12-17T11:00","c":0.2215},{"t":"2016-12-17T12:00","c":0.2232},{"t":"2016-12-17T13:00","c":0.2225},{"t":"2016-12-17T14:00","c":0.2193},{"t":"2016-12-17T15:00","c":0.2155},{"t":"2016-12-17T16:00","c":0.2125},{"t":"2016-12-17T17:00","c":0.2095},{"t":"2016-12-17T18:00","c":0.2125},{"t":"2016-12-17T19:00","c":0.2190},{"t":"2016-12-17T20:00","c":0.2237},{"t":"2016-12-17T21:00","c":0.2281},{"t":"2016-12-17T22:00","c":0.2301},{"t":"2016-12-17T23:00","c":0.2310},
{"t":"2016-12-18T00:00","c":0.2313},{"t":"2016-12-18T01:00","c":0.2315},{"t":"2016-12-18T02:00","c":0.2306},{"t":"2016-12-18T03:00","c":0.2281},{"t":"2016-12-18T04:00","c":0.2236},{"t":"2016-12-18T05:00","c":0.2166},{"t":"2016-12-18T06:00","c":0.2066},{"t":"2016-12-18T07:00","c":0.1961},{"t":"2016-12-18T08:00","c":0.1922},{"t":"2016-12-18T09:00","c":0.2050},{"t":"2016-12-18T10:00","c":0.2165},{"t":"2016-12-18T11:00","c":0.2215},{"t":"2016-12-18T12:00","c":0.2233},{"t":"2016-12-18T13:00","c":0.2226},{"t":"2016-12-18T14:00","c":0.2192},{"t":"2016-12-18T15:00","c":0.2145},{"t":"2016-12-18T16:00","c":0.2085},{"t":"2016-12-18T17:00","c":0.2055},{"t":"2016-12-18T18:00","c":0.2085},{"t":"2016-12-18T19:00","c":0.2150},{"t":"2016-12-18T20:00","c":0.2235},{"t":"2016-12-18T21:00","c":0.2280},{"t":"2016-12-18T22:00","c":0.2300},{"t":"2016-12-18T23:00","c":0.2309},
{"t":"2016-12-19T00:00","c":0.2312},{"t":"2016-12-19T01:00","c":0.2313},{"t":"2016-12-19T02:00","c":0.2305},{"t":"2016-12-19T03:00","c":0.2280},{"t":"2016-12-19T04:00","c":0.2235},{"t":"2016-12-19T05:00","c":0.2165},{"t":"2016-12-19T06:00","c":0.2065},{"t":"2016-12-19T07:00","c":0.1960},{"t":"2016-12-19T08:00","c":0.1922},{"t":"2016-12-19T09:00","c":0.2050},{"t":"2016-12-19T10:00","c":0.2165},{"t":"2016-12-19T11:00","c":0.2215},{"t":"2016-12-19T12:00","c":0.2232},{"t":"2016-12-19T13:00","c":0.2225},{"t":"2016-12-19T14:00","c":0.2195},{"t":"2016-12-19T15:00","c":0.2180},{"t":"2016-12-19T16:00","c":0.2150},{"t":"2016-12-19T17:00","c":0.2120},{"t":"2016-12-19T18:00","c":0.2150},{"t":"2016-12-19T19:00","c":0.2215},{"t":"2016-12-19T20:00","c":0.2240},{"t":"2016-12-19T21:00","c":0.2282},{"t":"2016-12-19T22:00","c":0.2302},{"t":"2016-12-19T23:00","c":0.2311},
{"t":"2016-12-20T00:00","c":0.2314},{"t":"2016-12-20T01:00","c":0.2317},{"t":"2016-12-20T02:00","c":0.2307},{"t":"2016-12-20T03:00","c":0.2282},{"t":"2016-12-20T04:00","c":0.2237},{"t":"2016-12-20T05:00","c":0.2167},{"t":"2016-12-20T06:00","c":0.2066},{"t":"2016-12-20T07:00","c":0.1961},{"t":"2016-12-20T08:00","c":0.1923},{"t":"2016-12-20T09:00","c":0.2051},{"t":"2016-12-20T10:00","c":0.2166},{"t":"2016-12-20T11:00","c":0.2216},{"t":"2016-12-20T12:00","c":0.2233},{"t":"2016-12-20T13:00","c":0.2226},{"t":"2016-12-20T14:00","c":0.2193},{"t":"2016-12-20T15:00","c":0.2145},{"t":"2016-12-20T16:00","c":0.2115},{"t":"2016-12-20T17:00","c":0.2085},{"t":"2016-12-20T18:00","c":0.2115},{"t":"2016-12-20T19:00","c":0.2180},{"t":"2016-12-20T20:00","c":0.2236},{"t":"2016-12-20T21:00","c":0.2281},{"t":"2016-12-20T22:00","c":0.2301},{"t":"2016-12-20T23:00","c":0.2310},
{"t":"2016-12-21T00:00","c":0.2312},{"t":"2016-12-21T01:00","c":0.2314},{"t":"2016-12-21T02:00","c":0.2305},{"t":"2016-12-21T03:00","c":0.2280},{"t":"2016-12-21T04:00","c":0.2235},{"t":"2016-12-21T05:00","c":0.2165},{"t":"2016-12-21T06:00","c":0.2065},{"t":"2016-12-21T07:00","c":0.1960},{"t":"2016-12-21T08:00","c":0.1922},{"t":"2016-12-21T09:00","c":0.2050},{"t":"2016-12-21T10:00","c":0.2165},{"t":"2016-12-21T11:00","c":0.2215},{"t":"2016-12-21T12:00","c":0.2232},{"t":"2016-12-21T13:00","c":0.2225},{"t":"2016-12-21T14:00","c":0.2194},{"t":"2016-12-21T15:00","c":0.2175},{"t":"2016-12-21T16:00","c":0.2145},{"t":"2016-12-21T17:00","c":0.2115},{"t":"2016-12-21T18:00","c":0.2145},{"t":"2016-12-21T19:00","c":0.2210},{"t":"2016-12-21T20:00","c":0.2239},{"t":"2016-12-21T21:00","c":0.2282},{"t":"2016-12-21T22:00","c":0.2302},{"t":"2016-12-21T23:00","c":0.2311},
{"t":"2016-12-22T00:00","c":0.2313},{"t":"2016-12-22T01:00","c":0.2315},{"t":"2016-12-22T02:00","c":0.2306},{"t":"2016-12-22T03:00","c":0.2281},{"t":"2016-12-22T04:00","c":0.2236},{"t":"2016-12-22T05:00","c":0.2166},{"t":"2016-12-22T06:00","c":0.2066},{"t":"2016-12-22T07:00","c":0.1960},{"t":"2016-12-22T08:00","c":0.1921},{"t":"2016-12-22T09:00","c":0.2050},{"t":"2016-12-22T10:00","c":0.2165},{"t":"2016-12-22T11:00","c":0.2215},{"t":"2016-12-22T12:00","c":0.2232},{"t":"2016-12-22T13:00","c":0.2225},{"t":"2016-12-22T14:00","c":0.2192},{"t":"2016-12-22T15:00","c":0.2145},{"t":"2016-12-22T16:00","c":0.2110},{"t":"2016-12-22T17:00","c":0.2080},{"t":"2016-12-22T18:00","c":0.2110},{"t":"2016-12-22T19:00","c":0.2175},{"t":"2016-12-22T20:00","c":0.2236},{"t":"2016-12-22T21:00","c":0.2280},{"t":"2016-12-22T22:00","c":0.2300},{"t":"2016-12-22T23:00","c":0.2309},
{"t":"2016-12-23T00:00","c":0.2312},{"t":"2016-12-23T01:00","c":0.2313},{"t":"2016-12-23T02:00","c":0.2305},{"t":"2016-12-23T03:00","c":0.2280},{"t":"2016-12-23T04:00","c":0.2235},{"t":"2016-12-23T05:00","c":0.2165},{"t":"2016-12-23T06:00","c":0.2065},{"t":"2016-12-23T07:00","c":0.1960},{"t":"2016-12-23T08:00","c":0.1922},{"t":"2016-12-23T09:00","c":0.2050},{"t":"2016-12-23T10:00","c":0.2165},{"t":"2016-12-23T11:00","c":0.2215},{"t":"2016-12-23T12:00","c":0.2232},{"t":"2016-12-23T13:00","c":0.2225},{"t":"2016-12-23T14:00","c":0.2193},{"t":"2016-12-23T15:00","c":0.2160},{"t":"2016-12-23T16:00","c":0.2130},{"t":"2016-12-23T17:00","c":0.2100},{"t":"2016-12-23T18:00","c":0.2130},{"t":"2016-12-23T19:00","c":0.2195},{"t":"2016-12-23T20:00","c":0.2237},{"t":"2016-12-23T21:00","c":0.2281},{"t":"2016-12-23T22:00","c":0.2301},{"t":"2016-12-23T23:00","c":0.2310},
{"t":"2016-12-24T00:00","c":0.2313},{"t":"2016-12-24T01:00","c":0.2315},{"t":"2016-12-24T02:00","c":0.2306},{"t":"2016-12-24T03:00","c":0.2281},{"t":"2016-12-24T04:00","c":0.2236},{"t":"2016-12-24T05:00","c":0.2166},{"t":"2016-12-24T06:00","c":0.2066},{"t":"2016-12-24T07:00","c":0.1961},{"t":"2016-12-24T08:00","c":0.1922},{"t":"2016-12-24T09:00","c":0.2050},{"t":"2016-12-24T10:00","c":0.2165},{"t":"2016-12-24T11:00","c":0.2215},{"t":"2016-12-24T12:00","c":0.2232},{"t":"2016-12-24T13:00","c":0.2225},{"t":"2016-12-24T14:00","c":0.2192},{"t":"2016-12-24T15:00","c":0.2145},{"t":"2016-12-24T16:00","c":0.2105},{"t":"2016-12-24T17:00","c":0.2075},{"t":"2016-12-24T18:00","c":0.2105},{"t":"2016-12-24T19:00","c":0.2170},{"t":"2016-12-24T20:00","c":0.2236},{"t":"2016-12-24T21:00","c":0.2280},{"t":"2016-12-24T22:00","c":0.2300},{"t":"2016-12-24T23:00","c":0.2309},
{"t":"2016-12-25T00:00","c":0.2312},{"t":"2016-12-25T01:00","c":0.2314},{"t":"2016-12-25T02:00","c":0.2305},{"t":"2016-12-25T03:00","c":0.2280},{"t":"2016-12-25T04:00","c":0.2235},{"t":"2016-12-25T05:00","c":0.2165},{"t":"2016-12-25T06:00","c":0.2065},{"t":"2016-12-25T07:00","c":0.1960},{"t":"2016-12-25T08:00","c":0.1922},{"t":"2016-12-25T09:00","c":0.2050},{"t":"2016-12-25T10:00","c":0.2165},{"t":"2016-12-25T11:00","c":0.2215},{"t":"2016-12-25T12:00","c":0.2231},{"t":"2016-12-25T13:00","c":0.2224},{"t":"2016-12-25T14:00","c":0.2193},{"t":"2016-12-25T15:00","c":0.2170},{"t":"2016-12-25T16:00","c":0.2140},{"t":"2016-12-25T17:00","c":0.2110},{"t":"2016-12-25T18:00","c":0.2140},{"t":"2016-12-25T19:00","c":0.2205},{"t":"2016-12-25T20:00","c":0.2238},{"t":"2016-12-25T21:00","c":0.2281},{"t":"2016-12-25T22:00","c":0.2301},{"t":"2016-12-25T23:00","c":0.2310},
{"t":"2016-12-26T00:00","c":0.2314},{"t":"2016-12-26T01:00","c":0.2318},{"t":"2016-12-26T02:00","c":0.2308},{"t":"2016-12-26T03:00","c":0.2283},{"t":"2016-12-26T04:00","c":0.2238},{"t":"2016-12-26T05:00","c":0.2168},{"t":"2016-12-26T06:00","c":0.2067},{"t":"2016-12-26T07:00","c":0.1961},{"t":"2016-12-26T08:00","c":0.1923},{"t":"2016-12-26T09:00","c":0.2051},{"t":"2016-12-26T10:00","c":0.2166},{"t":"2016-12-26T11:00","c":0.2216},{"t":"2016-12-26T12:00","c":0.2233},{"t":"2016-12-26T13:00","c":0.2226},{"t":"2016-12-26T14:00","c":0.2193},{"t":"2016-12-26T15:00","c":0.2145},{"t":"2016-12-26T16:00","c":0.2115},{"t":"2016-12-26T17:00","c":0.2085},{"t":"2016-12-26T18:00","c":0.2115},{"t":"2016-12-26T19:00","c":0.2180},{"t":"2016-12-26T20:00","c":0.2236},{"t":"2016-12-26T21:00","c":0.2281},{"t":"2016-12-26T22:00","c":0.2301},{"t":"2016-12-26T23:00","c":0.2310},
{"t":"2016-12-27T00:00","c":0.2312},{"t":"2016-12-27T01:00","c":0.2313},{"t":"2016-12-27T02:00","c":0.2305},{"t":"2016-12-27T03:00","c":0.2280},{"t":"2016-12-27T04:00","c":0.2235},{"t":"2016-12-27T05:00","c":0.2165},{"t":"2016-12-27T06:00","c":0.2065},{"t":"2016-12-27T07:00","c":0.1960},{"t":"2016-12-27T08:00","c":0.1922},{"t":"2016-12-27T09:00","c":0.2050},{"t":"2016-12-27T10:00","c":0.2165},{"t":"2016-12-27T11:00","c":0.2215},{"t":"2016-12-27T12:00","c":0.2232},{"t":"2016-12-27T13:00","c":0.2225},{"t":"2016-12-27T14:00","c":0.2195},{"t":"2016-12-27T15:00","c":0.2180},{"t":"2016-12-27T16:00","c":0.2150},{"t":"2016-12-27T17:00","c":0.2120},{"t":"2016-12-27T18:00","c":0.2150},{"t":"2016-12-27T19:00","c":0.2215},{"t":"2016-12-27T20:00","c":0.2240},{"t":"2016-12-27T21:00","c":0.2282},{"t":"2016-12-27T22:00","c":0.2302},{"t":"2016-12-27T23:00","c":0.2311},
{"t":"2016-12-28T00:00","c":0.2313},{"t":"2016-12-28T01:00","c":0.2315},{"t":"2016-12-28T02:00","c":0.2306},{"t":"2016-12-28T03:00","c":0.2281},{"t":"2016-12-28T04:00","c":0.2236},{"t":"2016-12-28T05:00","c":0.2166},{"t":"2016-12-28T06:00","c":0.2066},{"t":"2016-12-28T07:00","c":0.1960},{"t":"2016-12-28T08:00","c":0.1921},{"t":"2016-12-28T09:00","c":0.2050},{"t":"2016-12-28T10:00","c":0.2165},{"t":"2016-12-28T11:00","c":0.2215},{"t":"2016-12-28T12:00","c":0.2232},{"t":"2016-12-28T13:00","c":0.2225},{"t":"2016-12-28T14:00","c":0.2192},{"t":"2016-12-28T15:00","c":0.2145},{"t":"2016-12-28T16:00","c":0.2085},{"t":"2016-12-28T17:00","c":0.2055},{"t":"2016-12-28T18:00","c":0.2085},{"t":"2016-12-28T19:00","c":0.2150},{"t":"2016-12-28T20:00","c":0.2235},{"t":"2016-12-28T21:00","c":0.2280},{"t":"2016-12-28T22:00","c":0.2300},{"t":"2016-12-28T23:00","c":0.2309},
{"t":"2016-12-29T00:00","c":0.2312},{"t":"2016-12-29T01:00","c":0.2314},{"t":"2016-12-29T02:00","c":0.2305},{"t":"2016-12-29T03:00","c":0.2280},{"t":"2016-12-29T04:00","c":0.2235},{"t":"2016-12-29T05:00","c":0.2165},{"t":"2016-12-29T06:00","c":0.2065},{"t":"2016-12-29T07:00","c":0.1960},{"t":"2016-12-29T08:00","c":0.1922},{"t":"2016-12-29T09:00","c":0.2050},{"t":"2016-12-29T10:00","c":0.2165},{"t":"2016-12-29T11:00","c":0.2215},{"t":"2016-12-29T12:00","c":0.2232},{"t":"2016-12-29T13:00","c":0.2225},{"t":"2016-12-29T14:00","c":0.2194},{"t":"2016-12-29T15:00","c":0.2170},{"t":"2016-12-29T16:00","c":0.2140},{"t":"2016-12-29T17:00","c":0.2110},{"t":"2016-12-29T18:00","c":0.2140},{"t":"2016-12-29T19:00","c":0.2205},{"t":"2016-12-29T20:00","c":0.2238},{"t":"2016-12-29T21:00","c":0.2281},{"t":"2016-12-29T22:00","c":0.2301},{"t":"2016-12-29T23:00","c":0.2310},
{"t":"2016-12-30T00:00","c":0.2312},{"t":"2016-12-30T01:00","c":0.2313},{"t":"2016-12-30T02:00","c":0.2305},{"t":"2016-12-30T03:00","c":0.2280},{"t":"2016-12-30T04:00","c":0.2235},{"t":"2016-12-30T05:00","c":0.2165},{"t":"2016-12-30T06:00","c":0.2065},{"t":"2016-12-30T07:00","c":0.1960},{"t":"2016-12-30T08:00","c":0.1922},{"t":"2016-12-30T09:00","c":0.2050},{"t":"2016-12-30T10:00","c":0.2165},{"t":"2016-12-30T11:00","c":0.2215},{"t":"2016-12-30T12:00","c":0.2232},{"t":"2016-12-30T13:00","c":0.2225},{"t":"2016-12-30T14:00","c":0.2196},{"t":"2016-12-30T15:00","c":0.2185},{"t":"2016-12-30T16:00","c":0.2155},{"t":"2016-12-30T17:00","c":0.2125},{"t":"2016-12-30T18:00","c":0.2155},{"t":"2016-12-30T19:00","c":0.2220},{"t":"2016-12-30T20:00","c":0.2242},{"t":"2016-12-30T21:00","c":0.2270},{"t":"2016-12-30T22:00","c":0.2285},{"t":"2016-12-30T23:00","c":0.2290},
{"t":"2016-12-31T00:00","c":0.2293}
]
},
"vconcat":[
{
"width":756,"height":170,
"resolve":{"axis":{"x":"independent","y":"independent"}},
"layer":[
{"data":{"name":"ab"},"mark":{"type":"line","color":"#8a0fb8","strokeWidth":2},
"encoding":{
"x":{"field":"t","type":"temporal","scale":{"domain":[{"year":2016,"month":12,"date":1},{"year":2016,"month":12,"date":31}],"nice":false},
"axis":{"orient":"bottom","title":null,"labels":false,"tickCount":60,"grid":true}},
"y":{"field":"a","type":"quantitative","scale":{"domain":[0.18,0.26],"nice":false,"zero":false},
"axis":{"orient":"left","title":null,"labels":false,"tickCount":16,"grid":true}}
}},
{"data":{"name":"thr"},"mark":{"type":"line","color":"#f4769b","strokeWidth":3,"strokeDash":[5,3]},
"encoding":{
"x":{"field":"t","type":"temporal","axis":{"orient":"top","title":null,"labels":false,"grid":false,"tickCount":60}},
"y":{"field":"v","type":"quantitative","axis":{"orient":"right","title":null,"labels":false,"grid":false,"tickCount":16}}
}},
{"data":{"name":"thr"},"mark":{"type":"line","opacity":0},
"encoding":{
"x":{"field":"t","type":"temporal","axis":{"orient":"bottom","title":null,"labels":false,"tickSize":-7,"grid":true,"gridColor":"#c8c8c8","gridDash":[1,0],"gridWidth":1.3,"values":[{"year":2016,"month":12,"date":6},{"year":2016,"month":12,"date":11},{"year":2016,"month":12,"date":16},{"year":2016,"month":12,"date":21},{"year":2016,"month":12,"date":26}]}},
"y":{"field":"v","type":"quantitative","axis":{"orient":"left","title":"modified DE","tickCount":4,"format":".2f","tickSize":-7,"labelPadding":20,"grid":true,"gridColor":"#c8c8c8","gridDash":[1,0],"gridWidth":1.3}}
}},
{"data":{"name":"thr"},"mark":{"type":"line","opacity":0},
"encoding":{
"x":{"field":"t","type":"temporal","axis":{"orient":"top","title":null,"labels":false,"tickSize":-7,"grid":false,"values":[{"year":2016,"month":12,"date":6},{"year":2016,"month":12,"date":11},{"year":2016,"month":12,"date":16},{"year":2016,"month":12,"date":21},{"year":2016,"month":12,"date":26}]}},
"y":{"field":"v","type":"quantitative","axis":{"orient":"right","title":null,"labels":false,"tickCount":4,"tickSize":-7,"grid":false}}
}}
]
},
{
"width":756,"height":167,
"resolve":{"axis":{"x":"independent","y":"independent"}},
"layer":[
{"data":{"name":"ab"},"mark":{"type":"line","color":"#1f1f8f","strokeWidth":2},
"encoding":{
"x":{"field":"t","type":"temporal","scale":{"domain":[{"year":2016,"month":12,"date":1},{"year":2016,"month":12,"date":31}],"nice":false},
"axis":{"orient":"bottom","title":null,"labels":false,"tickCount":60,"grid":true}},
"y":{"field":"b","type":"quantitative","scale":{"domain":[0,0.8],"nice":false,"zero":false},
"axis":{"orient":"left","title":null,"labels":false,"tickCount":16,"grid":true}}
}},
{"data":{"name":"thr"},"mark":{"type":"line","color":"#f4769b","strokeWidth":3,"strokeDash":[5,3]},
"encoding":{
"x":{"field":"t","type":"temporal","axis":{"orient":"top","title":null,"labels":false,"grid":false,"tickCount":60}},
"y":{"field":"v","type":"quantitative","axis":{"orient":"right","title":null,"labels":false,"grid":false,"tickCount":16}}
}},
{"data":{"name":"thr"},"mark":{"type":"line","opacity":0},
"encoding":{
"x":{"field":"t","type":"temporal","axis":{"orient":"bottom","title":null,"labels":false,"tickSize":-7,"grid":true,"gridColor":"#c8c8c8","gridDash":[1,0],"gridWidth":1.3,"values":[{"year":2016,"month":12,"date":6},{"year":2016,"month":12,"date":11},{"year":2016,"month":12,"date":16},{"year":2016,"month":12,"date":21},{"year":2016,"month":12,"date":26}]}},
"y":{"field":"v","type":"quantitative","axis":{"orient":"left","title":"GA","tickCount":4,"labelExpr":"datum.value==0 ? '0' : format(datum.value,'.2f')","tickSize":-7,"labelPadding":20,"grid":true,"gridColor":"#c8c8c8","gridDash":[1,0],"gridWidth":1.3}}
}},
{"data":{"name":"thr"},"mark":{"type":"line","opacity":0},
"encoding":{
"x":{"field":"t","type":"temporal","axis":{"orient":"top","title":null,"labels":false,"tickSize":-7,"grid":false,"values":[{"year":2016,"month":12,"date":6},{"year":2016,"month":12,"date":11},{"year":2016,"month":12,"date":16},{"year":2016,"month":12,"date":21},{"year":2016,"month":12,"date":26}]}},
"y":{"field":"v","type":"quantitative","axis":{"orient":"right","title":null,"labels":false,"tickCount":4,"tickSize":-7,"grid":false}}
}}
]
},
{
"width":756,"height":153,
"resolve":{"axis":{"x":"independent","y":"independent"}},
"layer":[
{"data":{"name":"c"},"mark":{"type":"line","color":"#0f7a62","strokeWidth":2.2},
"encoding":{
"x":{"field":"t","type":"temporal","scale":{"domain":[{"year":2016,"month":12,"date":1},{"year":2016,"month":12,"date":31}],"nice":false},
"axis":{"orient":"bottom","title":null,"labels":false,"tickCount":60,"grid":true}},
"y":{"field":"c","type":"quantitative","scale":{"domain":[0.18,0.24],"nice":false,"zero":false},
"axis":{"orient":"left","title":null,"labels":false,"tickCount":12,"grid":true}}
}},
{"data":{"name":"thr"},"mark":{"type":"line","color":"#f4769b","strokeWidth":3,"strokeDash":[5,3]},
"encoding":{
"x":{"field":"t","type":"temporal","axis":{"orient":"top","title":null,"labels":false,"grid":false,"tickCount":60}},
"y":{"field":"v","type":"quantitative","axis":{"orient":"right","title":null,"labels":false,"grid":false,"tickCount":12}}
}},
{"data":{"name":"thr"},"mark":{"type":"line","opacity":0},
"encoding":{
"x":{"field":"t","type":"temporal","axis":{"orient":"bottom","title":null,"tickCount":15,"format":"%-d %b %y","labelAngle":-45,"labelAlign":"right","labelBaseline":"top","labelFontSize":20,"labelPadding":12,"tickSize":-7,"grid":true,"gridColor":"#c8c8c8","gridDash":[1,0],"gridWidth":1.3}},
"y":{"field":"v","type":"quantitative","axis":{"orient":"left","title":"existing rule","tickCount":3,"format":".2f","tickSize":-7,"labelPadding":20,"grid":true,"gridColor":"#c8c8c8","gridDash":[1,0],"gridWidth":1.3}}
}},
{"data":{"name":"thr"},"mark":{"type":"line","opacity":0},
"encoding":{
"x":{"field":"t","type":"temporal","axis":{"orient":"top","title":null,"labels":false,"tickCount":15,"tickSize":-7,"grid":false}},
"y":{"field":"v","type":"quantitative","axis":{"orient":"right","title":null,"labels":false,"tickCount":3,"tickSize":-7,"grid":false}}
}}
]
}
]
}
